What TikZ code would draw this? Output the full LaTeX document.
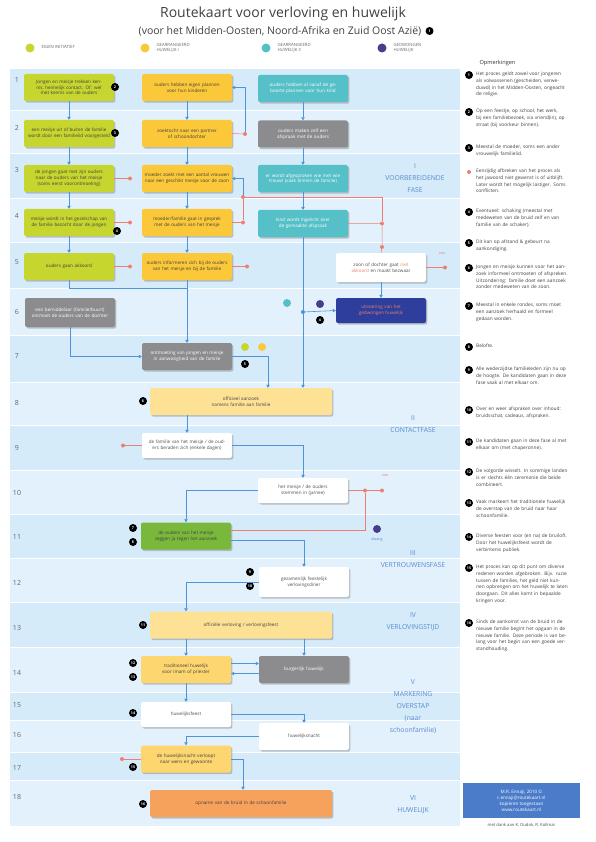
\documentclass[tikz,border=0pt]{standalone}
\usepackage{fontspec}
\setmainfont{Open Sans}
\usetikzlibrary{arrows.meta, positioning, shadows, calc}

\definecolor{cLime}{RGB}{198,214,46}
\definecolor{cSun}{RGB}{250,200,56}
\definecolor{cSunLight}{RGB}{253,214,112}
\definecolor{cPale}{RGB}{253,226,150}
\definecolor{cTeal}{RGB}{86,192,200}
\definecolor{cStone}{RGB}{140,140,142}
\definecolor{cNavy}{RGB}{46,62,156}
\definecolor{cPlum}{RGB}{72,60,140}
\definecolor{cLeaf}{RGB}{122,184,60}
\definecolor{cPeach}{RGB}{247,162,92}
\definecolor{cFlow}{RGB}{78,148,218}
\definecolor{cStop}{RGB}{240,126,110}
\definecolor{cBandA}{RGB}{214,235,250}
\definecolor{cBandB}{RGB}{226,241,252}
\definecolor{cPhase}{RGB}{88,138,206}
\definecolor{cCredit}{RGB}{74,124,201}

\begin{document}
\begin{tikzpicture}[x=1pt, y=-1pt,
    box/.style={
        rounded corners=2pt, minimum height=27pt, text width=86pt,
        inner xsep=2pt, inner ysep=1pt, align=center,
        font=\fontsize{4.6}{5.7}\selectfont,
        drop shadow={shadow xshift=1.4pt, shadow yshift=-1.6pt, opacity=0.45}
    },
    widebox/.style={box, text width=178pt},
    eigen/.style={box, fill=cLime, text=black!75},
    gearr/.style={box, fill=cSun, text=black!75},
    gearrtwee/.style={box, fill=cTeal, text=white},
    neutraal/.style={box, fill=cStone, text=white},
    wit/.style={box, fill=white, text=black!70},
    dwang/.style={box, fill=cNavy, text=cStop, minimum height=25pt},
    traditie/.style={box, fill=cSunLight, text=black!75},
    akkoord/.style={box, fill=cLeaf, text=black!75},
    licht/.style={widebox, fill=cPale, text=black!75},
    slot/.style={widebox, fill=cPeach, text=black!75},
    badge/.style={circle, fill=black, text=white, inner sep=0pt, minimum size=8pt,
        font=\fontsize{3.6}{4}\selectfont\bfseries},
    legdot/.style={circle, inner sep=0pt, minimum size=9pt},
    stopdot/.style={circle, fill=cStop, inner sep=0pt, minimum size=4pt},
    flowdot/.style={circle, fill=cFlow, inner sep=0pt, minimum size=4pt},
    flowline/.style={cFlow, line width=0.6pt},
    flow/.style={flowline, -{Triangle[length=3pt, width=3.4pt]}},
    breuk/.style={cStop, line width=0.5pt},
    rownum/.style={font=\fontsize{7}{8}\selectfont, text=black!60},
    fase/.style={align=center, text=cPhase, font=\fontsize{6.8}{12}\selectfont},
    legtext/.style={anchor=west, align=left, text=black!60, font=\fontsize{4.3}{5.6}\selectfont},
    remark/.style={anchor=north west, text width=92pt, align=left, inner sep=0pt,
        text=black!75, font=\fontsize{4.8}{6.7}\selectfont},
    tiny/.style={align=center, text=cStop, font=\fontsize{3.6}{4.2}\selectfont}
]
\useasboundingbox (0,0) rectangle (595,842);

% title and legend
\node[font=\fontsize{14}{16}\selectfont, text=black!75] (title) at (283,14) {Routekaart voor verloving en huwelijk};
\node[font=\fontsize{10.5}{12}\selectfont, text=black!75] (subtitle) at (280,31) {(voor het Midden-Oosten, Noord-Afrika en Zuid Oost Azië)};
\node[badge, right=0.5pt of subtitle] (n1) {1};

\node[legdot, fill=cLime] (leg1) at (30,48) {};
\node[legtext] (legt1) at (38,47) {EIGEN INITIATIEF};
\node[legdot, fill=cSun] (leg2) at (145,48) {};
\node[legtext] (legt2) at (153,48) {GEARRANGEERD\\HUWELIJK I};
\node[legdot, fill=cTeal] (leg3) at (266,48) {};
\node[legtext] (legt3) at (274,48) {GEARRANGEERD\\HUWELIJK II};
\node[legdot, fill=cPlum] (leg4) at (382,48) {};
\node[legtext] (legt4) at (390,48) {GEDWONGEN\\HUWELIJK};
\node[anchor=west, text=black!80, font=\fontsize{5.6}{6}\selectfont] (opm) at (476,63) {Opmerkingen};

% row bands
\foreach \r/\t/\b/\l/\c in {1/68/110/80/cBandA, 2/110/153/128/cBandB, 3/153/198/170/cBandA,
    4/198/242/216/cBandB, 5/242/288/262/cBandA, 6/288/335/312/cBandB, 7/335/382/356/cBandA,
    8/382/425/403/cBandB, 9/425/470/448/cBandA, 10/470/514/493/cBandB, 11/514/558/537/cBandA,
    12/558/602/583/cBandB, 13/602/647/628/cBandA, 14/647/692/673/cBandB, 15/692/720/705/cBandA,
    16/720/752/735/cBandB, 17/752/780/768/cBandA, 18/780/826/797/cBandB} {
    \fill[\c] (10,\t) rectangle (460,\b);
    \draw[white, line width=0.8pt] (10,\t) -- (460,\t);
    \node[rownum] (row\r) at (17,\l) {\r};
}

% phases
\node[fase] (f1) at (415,178) {I\\VOORBEREIDENDE\\FASE};
\node[fase] (f2) at (413,424) {II\\CONTACTFASE};
\node[fase] (f3) at (413,559) {III\\VERTROUWENSFASE};
\node[fase] (f4) at (413,622) {IV\\VERLOVINGSTIJD};
\node[fase] (f5) at (413,707) {V\\MARKERING\\OVERSTAP\\(naar\\schoonfamilie)};
\node[fase] (f6) at (413,805) {VI\\HUWELIJK};

% voorbereidende fase
\node[eigen] (a1) at (69,87.5) {Jongen en meisje trekken kennis, heimelijk contact. Of: wel met kennis van de ouders};
\node[eigen] (a2) at (69,133.5) {een meisje uit of buiten de familie wordt door een familielid voorgesteld};
\node[eigen] (a3) at (69,178.5) {de jongen gaat met zijn ouders naar de ouders van het meisje (soms eerst voorontmoeting)};
\node[eigen] (a4) at (69,222.5) {meisje wordt in het gezelschap van de familie bezocht door de jongen};
\node[eigen] (a5) at (69,266.5) {ouders gaan akkoord};
\node[neutraal, minimum height=29pt] (a6) at (70,312.5) {een bemiddelaar (familie/buurt) ontmoet de ouders van de dochter};

\node[gearr] (b1) at (187,87.5) {ouders hebben eigen plannen\\voor hun kinderen};
\node[gearr] (b2) at (187,133.5) {zoektocht naar een partner\\of schoondochter};
\node[gearr] (b3) at (187,178.5) {moeder zoekt met een aantal vrouwen naar een geschikt meisje voor de zoon};
\node[gearr] (b4) at (187,222.5) {moeder/familie gaat in gesprek met de ouders van het meisje};
\node[gearr] (b5) at (187,266.5) {ouders informeren zich bij de ouders van het meisje en bij de familie};

\node[gearrtwee] (c1) at (303,88.5) {ouders hebben al vanaf de geboorte plannen voor hun kind};
\node[neutraal] (c2) at (303,134) {ouders maken zelf een\\afspraak met de ouders};
\node[gearrtwee] (c3) at (303,178.5) {er wordt afgesproken wie met wie trouwt (vaak binnen de familie)};
\node[gearrtwee] (c4) at (303,223.5) {kind wordt ingelicht over\\de gemaakte afspraak};

\node[wit, minimum height=29pt] (w5) at (381,267.5) {zoon of dochter gaat {\color{cStop}niet akkoord} en maakt bezwaar};
\node[dwang] (d6) at (381,310.5) {uitvoering van het\\gedwongen huwelijk};

% contactfase en verder
\node[neutraal] (r7) at (187,356.5) {ontmoeting van jongen en meisje in aanwezigheid van de familie};
\node[licht] (r8) at (241,401.5) {officieel aanzoek\\namens familie aan familie};
\node[wit, minimum height=25pt] (r9) at (187,445.5) {de familie van het meisje / de ouders beraden zich (enkele dagen)};
\node[wit, minimum height=25pt] (r10) at (303,490.5) {het meisje / de ouders\\stemmen in (ja/nee)};
\node[akkoord] (r11) at (186,536) {de ouders van het meisje zeggen ja tegen het aanzoek};
\node[wit, minimum height=30pt] (r12) at (304,582) {gezamenlijk feestelijk\\verlovingsdiner};
\node[licht] (r13) at (241,625) {officiële verloving / verlovingsfeest};
\node[traditie] (r14) at (186,669.5) {traditioneel huwelijk\\voor imam of priester};
\node[neutraal] (g14) at (304,669.5) {burgerlijk huwelijk};
\node[wit, minimum height=25pt] (r15) at (186,714.5) {huwelijksfeest};
\node[wit] (r16) at (304,736.5) {huwelijksnacht};
\node[traditie] (r17) at (186,759) {de huwelijksnacht verloopt naar wens en gewoonte};
\node[slot] (r18) at (241,803.5) {opname van de bruid in de schoonfamilie};

% markers
\node[badge] (n2) at (115,87) {2};
\node[badge] (n3) at (115,133) {3};
\node[badge] (n4) at (117,231) {4};
\node[legdot, fill=cTeal, minimum size=8pt] (k6) at (287,303) {};
\node[legdot, fill=cPlum, minimum size=8pt] (p6) at (320,304) {};
\node[badge] (n4b) at (320,320) {4};
\node[legdot, fill=cLime, minimum size=8pt] (k7a) at (245,347) {};
\node[legdot, fill=cSun, minimum size=8pt] (k7b) at (262,347) {};
\node[badge] (n5) at (245,364) {5};
\node[badge] (n6) at (143,401) {6};
\node[badge] (n7) at (133,528) {7};
\node[badge] (n8) at (133,542) {8};
\node[legdot, fill=cPlum, minimum size=8pt] (p11) at (377,529) {};
\node[text=cPhase, font=\fontsize{3.6}{4}\selectfont] (p11t) at (377,540) {dwang};
\node[badge] (n9) at (250,572) {9};
\node[badge] (n10) at (250,586) {10};
\node[badge] (n11) at (143,625) {11};
\node[badge] (n12) at (133,663) {12};
\node[badge] (n13) at (133,677) {13};
\node[badge] (n14) at (133,713) {14};
\node[badge] (n15) at (133,767) {15};
\node[badge] (n16) at (143,804) {16};

% afbreken
\node[stopdot] (s1) at (245,134) {};
\node[stopdot] (s2) at (243,197) {};
\node[stopdot] (s3) at (243,222.5) {};
\node[stopdot] (s4) at (382,223.5) {};
\node[stopdot] (s5) at (382,247) {};
\node[stopdot] (s6) at (445,267.5) {};
\node[tiny] (s6t) at (442,254) {nee};
\node[stopdot] (s7) at (130,178.5) {};
\node[stopdot] (s8) at (130,222.5) {};
\node[stopdot] (s9) at (130,266.5) {};
\node[stopdot] (s10) at (247,266.5) {};
\node[stopdot] (s11) at (123,445.5) {};
\node[stopdot] (s12) at (365,490.5) {};
\node[stopdot] (s13) at (382,490.5) {};
\node[tiny] (s13t) at (385,476) {nee};
\node[stopdot] (s14) at (122,759) {};

\draw[breuk] (b2.east) -- (s1);
\draw[breuk] (b4.east) -- (s3) -- (s2);
\draw[breuk] (s2) -| (s4);
\draw[breuk] (c4.east) -- (s4) -- (s5) -- (w5.north);
\draw[breuk] (w5.east) -- (s6);
\draw[breuk] (a3.east) -- (s7);
\draw[breuk] (a4.east) -- (s8);
\draw[breuk] (a5.east) -- (s9);
\draw[breuk] (b5.east) -- (s10);
\draw[breuk] (r9.west) -- (s11);
\draw[breuk] (r10.east) -- (s12) -- (s13);
\draw[breuk] (s12) |- ($(r11.east)+(0,-6)$);
\draw[breuk] (r17.west) -- (s14);

% stroom
\draw[flow] (a1) -- (a2);
\draw[flow] (a2) -- (a3);
\draw[flow] (a3) -- (a4);
\draw[flow] (a4) -- (a5);
\draw[flow] (b1) -- (b2);
\draw[flow] (b2) -- (b3);
\draw[flow] (b3) -- (b4);
\draw[flow] (b4) -- (b5);
\draw[flow] (c1) -- (c2);
\draw[flow] (c2) -- (c3);
\draw[flow] (c3) -- (c4);
\draw[flow] (s1) |- (b1.east);
\draw[flow] (s2) |- (b3.east);
\coordinate (j5) at (187,288);
\draw[flowline] (a5.south) |- (j5);
\draw[flow] (b5.south) -- (r7.north);
\draw[flow] (a6.south) |- (r7.west);
\draw[flow] (c4.south) -- (c4.south |- r8.north);
\node[flowdot] (j6) at (303,312) {};
\draw[flow] (j6) -- (d6.west);
\draw[flow] (w5.south) -- (d6.north);
\draw[flow] (r7.east) -| ($(r8.north)+(27,0)$);
\draw[flow] (r9.north |- r8.south) -- (r9.north);
\draw[flow] (r9.east) -| (r10.north);
\draw[flow] (r10.west) -| (r11.north);
\draw[flow] ($(r11.east)+(0,4)$) -| (r12.north);
\draw[flow] (r12.west) -| ($(r13.north)+(-55,0)$);
\draw[flow] (r14.north |- r13.south) -- (r14.north);
\draw[flow] (g14.north |- r13.south) -- (g14.north);
\draw[flow] ($(r14.east)+(0,-6)$) -- ($(g14.west)+(0,-6)$);
\draw[flow] ($(g14.west)+(0,4)$) -- ($(r14.east)+(0,4)$);
\draw[flow] (r14) -- (r15);
\draw[flow] (r15.east) -| (r16.north);
\draw[flow] (r16.west) -| (r17.north);
\draw[flow] (r17.east) -| ($(r18.north)+(2,0)$);

% opmerkingen
\node[badge] (m1) at (469,75) {1};
\node[remark] (t1) at (476,72) {Het proces geldt zowel voor jongeren als volwassenen (gescheiden, verweduwd) in het Midden-Oosten, ongeacht de religie.};
\node[badge] (m2) at (469,112) {2};
\node[remark] (t2) at (476,109) {Op een feestje, op school, het werk, bij een familiebezoek, via vriend(in), op straat (bij voorkeur binnen).};
\node[badge] (m3) at (469,148) {3};
\node[remark] (t3) at (476,145) {Meestal de moeder, soms een ander vrouwelijk familielid.};
\node[stopdot] (mr) at (469,172) {};
\node[remark] (tr) at (476,169) {Eenzijdig afbreken van het proces als het jawoord niet gewenst is of uitblijft. Later wordt het mogelijk lastiger. Soms conflicten.};
\node[badge] (m4) at (469,212) {4};
\node[remark] (t4) at (476,209) {Eventueel: schaking (meestal met medeweten van de bruid zelf en van familie van de schaker).};
\node[badge] (m5) at (469,243) {5};
\node[remark] (t5) at (476,240) {Dit kan op afstand \& gebeurt na aankondiging.};
\node[badge] (m6) at (469,268) {6};
\node[remark] (t6) at (476,265) {Jongen en meisje kunnen voor het aanzoek informeel ontmoeten of afspreken. Uitzondering: familie doet een aanzoek zonder medeweten van de zoon.};
\node[badge] (m7) at (469,306) {7};
\node[remark] (t7) at (476,303) {Meestal in enkele rondes, soms moet een aanzoek herhaald en formeel gedaan worden.};
\node[badge] (m8) at (469,347) {8};
\node[remark] (t8) at (476,344) {Belofte.};
\node[badge] (m9) at (469,370) {9};
\node[remark] (t9) at (476,367) {Alle wederzijdse familieleden zijn nu op de hoogte. De kandidaten gaan in deze fase vaak al met elkaar om.};
\node[badge] (m10) at (469,410) {10};
\node[remark] (t10) at (476,407) {Over en weer afspraken over inhoud: bruidsschat, cadeaus, afspraken.};
\node[badge] (m11) at (469,442) {11};
\node[remark] (t11) at (476,439) {De kandidaten gaan in deze fase al met elkaar om (met chaperonne).};
\node[badge] (m12) at (469,472) {12};
\node[remark] (t12) at (476,469) {De volgorde wisselt. In sommige landen is er slechts één ceremonie die beide combineert.};
\node[badge] (m13) at (469,503) {13};
\node[remark] (t13) at (476,500) {Vaak markeert het traditionele huwelijk de overstap van de bruid naar haar schoonfamilie.};
\node[badge] (m14) at (469,537) {14};
\node[remark] (t14) at (476,534) {Diverse feesten voor (en na) de bruiloft. Door het huwelijksfeest wordt de verbintenis publiek.};
\node[badge] (m15) at (469,568) {15};
\node[remark] (t15) at (476,565) {Het proces kan op dit punt om diverse redenen worden afgebroken. Bijv. ruzie tussen de families, het geld niet kunnen opbrengen om het huwelijk te laten doorgaan. Dit alles komt in bepaalde kringen voor.};
\node[badge] (m16) at (469,623) {16};
\node[remark] (t16) at (476,620) {Sinds de aankomst van de bruid in de nieuwe familie begint het opgaan in de nieuwe familie. Deze periode is van belang voor het begin van een goede verstandhouding.};

% colofon
\node[fill=cCredit, text=white, minimum width=117pt, minimum height=35pt, align=center,
    font=\fontsize{4.6}{6}\selectfont] (credit) at (521.5,800.5) {M.R. Ennaji, 2010 ©\\r.ennaji@routekaart.nl\\kopiëren toegestaan\\www.routekaart.nl};
\node[below=2pt of credit, text=black!70, font=\fontsize{4.2}{5}\selectfont] (dank) {met dank aan K. Dudok, R. Kollmar};

\end{tikzpicture}
\end{document}
